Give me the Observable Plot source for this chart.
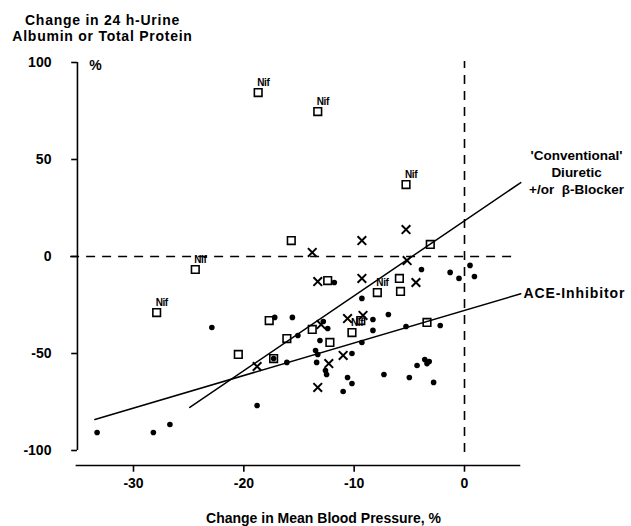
<!DOCTYPE html>
<html>
<head>
<meta charset="utf-8">
<script src="https://cdn.jsdelivr.net/npm/d3@7"></script>
<script src="https://cdn.jsdelivr.net/npm/@observablehq/plot@0.6"></script>
<style>
  html, body { margin: 0; padding: 0; background: white; }
  svg { display: block; }
</style>
</head>
<body>
<div id="chart"></div>
<script>
// ---- Data ----
// Open squares (no label)
const squareX = [-3.1, -15.7, -12.4, -5.9, -5.8, -17.7, -13.8, -9.4, -3.4, -16.1, -12.2, -20.5, -17.3];
const squareY = [6.2, 8.2, -12.4, -11.3, -18.0, -33.0, -37.6, -33.0, -34.0, -42.3, -44.3, -50.5, -52.6];
// Open squares labelled "Nif"
const nifX = [-18.7, -13.3, -5.3, -24.4, -27.9, -7.9, -10.2];
const nifY = [84.5, 74.7, 37.1, -6.7, -28.9, -18.6, -39.2];
// Crosses
const crossX = [-13.8, -9.3, -5.3, -5.2, -13.3, -9.3, -4.4, -10.6, -9.2, -13.0, -11.0, -12.3, -13.3, -18.8];
const crossY = [2.1, 8.2, 13.9, -2.1, -12.9, -11.3, -13.4, -32.0, -30.4, -35.1, -51.0, -55.2, -67.5, -56.7];
// Filled dots
const dotX = [-22.9, -33.3, -28.2, -26.7, -18.8, -17.2, -16.1, -15.6, -11.8, -9.3, -3.9, -1.3, -0.5, 0.5, 0.9,
              -15.1, -12.8, -12.4, -13.1, -8.3, -6.9, -8.3, -5.3, -2.2, -9.3, -13.5, -13.3, -13.4, -12.6, -12.5,
              -10.2, -10.6, -10.2, -11.0, -7.3, -5.0, -4.3, -3.6, -3.4, -3.2, -2.8, -17.3];
const dotY = [-36.6, -90.7, -90.7, -86.6, -76.8, -31.4, -54.6, -31.4, -13.4, -21.6, -6.7, -8.2, -11.3, -4.6, -10.3,
              -40.7, -33.5, -37.1, -43.3, -32.5, -29.9, -38.1, -36.1, -35.6, -44.3, -48.5, -50.5, -54.6, -58.8, -60.8,
              -50.0, -62.4, -65.5, -69.6, -60.8, -62.4, -56.2, -53.1, -55.2, -54.1, -64.9, -52.6];
// Regression lines (end points)
const convLineX = [-24.9, 5.1];
const convLineY = [-77.8, 38.1];
const aceLineX = [-33.5, 5.1];
const aceLineY = [-84.0, -19.2];
// Ticks
const xTicks = [-30, -20, -10, 0];
const xTickLabels = ["-30", "-20", "-10", "0"];
const yTicks = [100, 50, 0, -50, -100];
const yTickLabels = ["100", "50", "0", "-50", "-100"];
// Texts
const titleText = "Change in 24 h-Urine\nAlbumin or Total Protein";
const yUnit = "%";
const xTitle = "Change in Mean Blood Pressure, %";
const convLabel = "'Conventional'\nDiuretic\n+/or  \u03B2-Blocker";
const aceLabel = "ACE-Inhibitor";
const nifLabel = "Nif";

// ---- Build tables ----
const zip = (xs, ys) => xs.map((x, i) => ({x, y: ys[i]}));
const squares = zip(squareX, squareY);
const nifs = zip(nifX, nifY);
const crosses = zip(crossX, crossY);
const dots = zip(dotX, dotY);
const convLine = zip(convLineX, convLineY);
const aceLine = zip(aceLineX, aceLineY);
const yTickData = yTicks.map((v, i) => ({v, label: yTickLabels[i]}));
const xTickData = xTicks.map((v, i) => ({v, label: xTickLabels[i]}));

const axisXpos = -35.08;   // data x where the vertical axis line sits
const axisYpos = -107.7;   // data y where the horizontal axis line sits

const chart = Plot.plot({
  width: 631,
  height: 526,
  marginTop: 0, marginRight: 0, marginBottom: 0, marginLeft: 0,
  x: {domain: [-30, 0], range: [133, 464], axis: null},
  y: {domain: [-100, 100], range: [450, 62], axis: null},
  style: {fontFamily: "'Liberation Sans', Arial, sans-serif", fontSize: "14px", fontWeight: "bold", background: "white", color: "black"},
  marks: [
    // y axis
    Plot.ruleX([axisXpos], {y1: -100, y2: 100, stroke: "black", strokeWidth: 1.6}),
    Plot.ruleY(yTickData, {y: "v", x1: -35.6, x2: axisXpos, stroke: "black", strokeWidth: 1.6}),
    Plot.text(yTickData, {x: axisXpos, y: "v", text: "label", dx: -26, textAnchor: "end", fontSize: 14}),
    // x axis
    Plot.ruleY([axisYpos], {x1: -35.2, x2: 5.1, stroke: "black", strokeWidth: 1.6}),
    Plot.ruleX(xTickData, {x: "v", y1: axisYpos, y2: -111.2, stroke: "black", strokeWidth: 1.6}),
    Plot.text(xTickData, {x: "v", y: axisYpos, text: "label", dy: 18, fontSize: 14}),
    // dashed reference lines
    Plot.ruleY([0], {x1: -35.7, x2: 4.6, stroke: "black", strokeWidth: 1.6, strokeDasharray: "9,7"}),
    Plot.ruleX([0], {y1: -101, y2: 100.5, stroke: "black", strokeWidth: 1.6, strokeDasharray: "9,7"}),
    // regression lines
    Plot.line(convLine, {x: "x", y: "y", stroke: "black", strokeWidth: 1.5}),
    Plot.line(aceLine, {x: "x", y: "y", stroke: "black", strokeWidth: 1.5}),
    // data points
    Plot.dot(dots, {x: "x", y: "y", r: 2.8, fill: "black"}),
    Plot.dot(squares, {x: "x", y: "y", symbol: "square", r: 4.3, stroke: "black", strokeWidth: 1.6, fill: "none"}),
    Plot.dot(nifs, {x: "x", y: "y", symbol: "square", r: 4.3, stroke: "black", strokeWidth: 1.6, fill: "none"}),
    Plot.text(nifs, {x: "x", y: "y", text: () => nifLabel, dx: -1, dy: -10, textAnchor: "start", fontSize: 10}),
    Plot.dot(crosses, {x: "x", y: "y", symbol: "times", r: 4.0, stroke: "black", strokeWidth: 2}),
    // texts
    Plot.text([titleText], {frameAnchor: "top-left", dx: 102, dy: 13, textAnchor: "middle", lineAnchor: "top", lineHeight: 1.15, fontSize: 14}),
    Plot.text([yUnit], {frameAnchor: "top-left", dx: 95, dy: 60, textAnchor: "middle", fontSize: 14}),
    Plot.text([xTitle], {frameAnchor: "top-left", dx: 323, dy: 513, textAnchor: "middle", fontSize: 14}),
    Plot.text([convLabel], {frameAnchor: "top-left", dx: 576, dy: 148, textAnchor: "middle", lineAnchor: "top", lineHeight: 1.25, fontSize: 13.5}),
    Plot.text([aceLabel], {frameAnchor: "top-left", dx: 523, dy: 288, textAnchor: "start", fontSize: 14})
  ]
});

// Fine typographic spacing to match the reference's wider lettering
d3.select(chart).selectAll("text").each(function() {
  const t = this.textContent;
  if (t.startsWith("Change in 24")) this.style.letterSpacing = "0.75px";
  else if (t === aceLabel) this.style.letterSpacing = "0.9px";
  else if (t === nifLabel) this.style.letterSpacing = "-0.4px";
});
document.getElementById("chart").appendChild(chart);
</script>
</body>
</html>
